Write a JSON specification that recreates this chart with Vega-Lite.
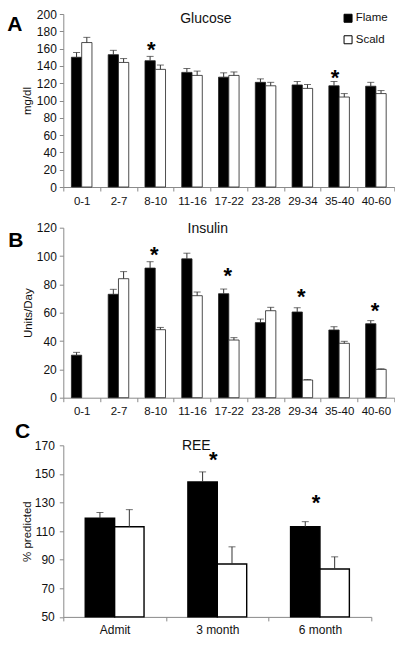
{
  "$schema": "https://vega.github.io/schema/vega-lite/v6.json",
  "background": "white",
  "padding": {"left": 7.3, "top": 8, "right": 0, "bottom": 0},
  "spacing": 2.3,
  "config": {
    "view": {"stroke": null},
    "font": "Liberation Sans",
    "axis": {"domainColor": "#8a8a8a", "tickColor": "#8a8a8a", "labelFont": "Liberation Sans", "labelFontSize": 12, "labelColor": "#111", "titleFont": "Liberation Sans", "titleFontSize": 11.5, "titleFontWeight": "normal", "titleColor": "#111", "grid": false, "tickSize": 4, "labelPadding": 3, "titlePadding": 2},
    "axisX": {"tickBand": "extent", "labelAngle": 0, "labelFontSize": 11.5, "labelPadding": 4},
    "axisY": {"titleBaseline": "middle", "titleAlign": "center"},
    "title": {"font": "Liberation Sans", "color": "#111"}
  },
  "datasets": {
    "glucose": [
      {"cat": "0-1", "group": "Flame", "value": 150, "upper": 155.5},
      {"cat": "0-1", "group": "Scald", "value": 167, "upper": 173},
      {"cat": "2-7", "group": "Flame", "value": 153, "upper": 158},
      {"cat": "2-7", "group": "Scald", "value": 144, "upper": 148.5},
      {"cat": "8-10", "group": "Flame", "value": 146, "upper": 151},
      {"cat": "8-10", "group": "Scald", "value": 136, "upper": 141},
      {"cat": "11-16", "group": "Flame", "value": 132.5, "upper": 137},
      {"cat": "11-16", "group": "Scald", "value": 129, "upper": 134},
      {"cat": "17-22", "group": "Flame", "value": 127, "upper": 132},
      {"cat": "17-22", "group": "Scald", "value": 129, "upper": 133},
      {"cat": "23-28", "group": "Flame", "value": 121, "upper": 125},
      {"cat": "23-28", "group": "Scald", "value": 117, "upper": 121},
      {"cat": "29-34", "group": "Flame", "value": 118, "upper": 122},
      {"cat": "29-34", "group": "Scald", "value": 114, "upper": 118.5},
      {"cat": "35-40", "group": "Flame", "value": 117, "upper": 122},
      {"cat": "35-40", "group": "Scald", "value": 104, "upper": 108},
      {"cat": "40-60", "group": "Flame", "value": 116.5, "upper": 121},
      {"cat": "40-60", "group": "Scald", "value": 108, "upper": 111.5}
    ],
    "glucoseStars": [
      {"cat": "8-10", "y": 161.5},
      {"cat": "35-40", "y": 129}
    ],
    "insulin": [
      {"cat": "0-1", "group": "Flame", "value": 30, "upper": 32},
      {"cat": "2-7", "group": "Flame", "value": 73, "upper": 76.5},
      {"cat": "2-7", "group": "Scald", "value": 84, "upper": 89},
      {"cat": "8-10", "group": "Flame", "value": 91.5, "upper": 96},
      {"cat": "8-10", "group": "Scald", "value": 48, "upper": 49.6},
      {"cat": "11-16", "group": "Flame", "value": 98, "upper": 102},
      {"cat": "11-16", "group": "Scald", "value": 72, "upper": 74.6},
      {"cat": "17-22", "group": "Flame", "value": 73.4, "upper": 76.7},
      {"cat": "17-22", "group": "Scald", "value": 40.7, "upper": 42.4},
      {"cat": "23-28", "group": "Flame", "value": 53, "upper": 55.5},
      {"cat": "23-28", "group": "Scald", "value": 61.4, "upper": 63.8},
      {"cat": "29-34", "group": "Flame", "value": 60.5, "upper": 63.5},
      {"cat": "29-34", "group": "Scald", "value": 12.5, "upper": 12.8},
      {"cat": "35-40", "group": "Flame", "value": 47.8, "upper": 50.1},
      {"cat": "35-40", "group": "Scald", "value": 38.4, "upper": 39.8},
      {"cat": "40-60", "group": "Flame", "value": 52.2, "upper": 54.4},
      {"cat": "40-60", "group": "Scald", "value": 20, "upper": 20.4}
    ],
    "insulinStars": [
      {"cat": "8-10", "y": 103},
      {"cat": "17-22", "y": 88},
      {"cat": "29-34", "y": 73},
      {"cat": "40-60", "y": 63}
    ],
    "ree": [
      {"cat": "Admit", "group": "Flame", "value": 119, "upper": 123},
      {"cat": "Admit", "group": "Scald", "value": 113, "upper": 125},
      {"cat": "3 month", "group": "Flame", "value": 144.4, "upper": 151.4},
      {"cat": "3 month", "group": "Scald", "value": 87, "upper": 99},
      {"cat": "6 month", "group": "Flame", "value": 113, "upper": 116.6},
      {"cat": "6 month", "group": "Scald", "value": 83.5, "upper": 92}
    ],
    "reeStars": [
      {"cat": "3 month", "y": 161.5},
      {"cat": "6 month", "y": 132}
    ]
  },
  "resolve": {"scale": {"fill": "independent", "xOffset": "independent"}, "legend": {"fill": "independent"}},
  "vconcat": [
    {
      "spacing": 14.7,
      "resolve": {"scale": {"fill": "independent", "xOffset": "independent"}, "legend": {"fill": "independent"}},
      "vconcat": [
        {
          "title": {"text": "A", "anchor": "start", "frame": "bounds", "fontSize": 21, "fontWeight": "bold", "color": "#000", "baseline": "alphabetic", "offset": -44.4, "dx": -14.7},
          "resolve": {"scale": {"fill": "independent", "xOffset": "independent"}, "legend": {"fill": "independent"}},
          "vconcat": [
            {
              "width": 331,
              "height": 173,
              "data": {"name": "glucose"},
              "title": {"text": "Glucose", "anchor": "middle", "frame": "group", "fontSize": 14, "fontWeight": "normal", "baseline": "alphabetic", "offset": -29, "dx": -23},
              "encoding": {
                "x": {"field": "cat", "type": "nominal", "title": null,
                      "scale": {"domain": ["0-1", "2-7", "8-10", "11-16", "17-22", "23-28", "29-34", "35-40", "40-60"], "paddingInner": 0, "paddingOuter": 0}}
              },
              "layer": [
                {
                  "mark": {"type": "bar", "stroke": "#222", "strokeWidth": 0.8},
                  "encoding": {
                    "xOffset": {"field": "group", "type": "nominal", "scale": {"domain": ["Flame", "Scald"], "paddingInner": 0, "paddingOuter": 0.79}},
                    "y": {"field": "value", "type": "quantitative", "scale": {"domain": [0, 200]}, "axis": {"title": "mg/dl", "titleX": -35.3, "values": [0, 20, 40, 60, 80, 100, 120, 140, 160, 180, 200]}},
                    "fill": {"field": "group", "type": "nominal", "scale": {"domain": ["Flame", "Scald"], "range": ["#000000", "#ffffff"]},
                             "legend": {"orient": "none", "legendX": 279, "legendY": -1.5, "title": null, "symbolType": "square", "symbolSize": 64, "symbolStrokeColor": "#000", "symbolStrokeWidth": 1, "labelFont": "Liberation Sans", "labelFontSize": 11.5, "labelColor": "#111", "rowPadding": 8.5, "padding": 0, "labelOffset": 2}}
                  }
                },
                {
                  "mark": {"type": "rule", "color": "#333", "strokeWidth": 1},
                  "encoding": {
                    "xOffset": {"field": "group", "type": "nominal", "scale": {"domain": ["Flame", "Scald"], "paddingInner": 0, "paddingOuter": 0.79}},
                    "y": {"field": "value", "type": "quantitative", "axis": {"title": "mg/dl", "titleX": -35.3, "values": [0, 20, 40, 60, 80, 100, 120, 140, 160, 180, 200]}},
                    "y2": {"field": "upper"}
                  }
                },
                {
                  "mark": {"type": "tick", "color": "#333", "size": 7, "thickness": 1},
                  "encoding": {
                    "xOffset": {"field": "group", "type": "nominal", "scale": {"domain": ["Flame", "Scald"], "paddingInner": 0, "paddingOuter": 0.79}},
                    "y": {"field": "upper", "type": "quantitative", "axis": {"title": "mg/dl", "titleX": -35.3, "values": [0, 20, 40, 60, 80, 100, 120, 140, 160, 180, 200]}}
                  }
                },
                {
                  "data": {"name": "glucoseStars"},
                  "mark": {"type": "text", "text": "*", "fontSize": 22, "fontWeight": "bold", "color": "#000", "baseline": "middle", "dx": -4, "dy": 3},
                  "encoding": {
                    "y": {"field": "y", "type": "quantitative", "axis": {"title": "mg/dl", "titleX": -35.3, "values": [0, 20, 40, 60, 80, 100, 120, 140, 160, 180, 200]}}
                  }
                }
              ]
            }
          ]
        },
        {
          "title": {"text": "B", "anchor": "start", "frame": "bounds", "fontSize": 21, "fontWeight": "bold", "color": "#000", "baseline": "alphabetic", "offset": -45.9, "dx": -14},
          "resolve": {"scale": {"fill": "independent", "xOffset": "independent"}, "legend": {"fill": "independent"}},
          "vconcat": [
            {
              "width": 331,
              "height": 170,
              "data": {"name": "insulin"},
              "title": {"text": "Insulin", "anchor": "middle", "frame": "group", "fontSize": 14, "fontWeight": "normal", "baseline": "alphabetic", "offset": -25, "dx": -21},
              "encoding": {
                "x": {"field": "cat", "type": "nominal", "title": null,
                      "scale": {"domain": ["0-1", "2-7", "8-10", "11-16", "17-22", "23-28", "29-34", "35-40", "40-60"], "paddingInner": 0, "paddingOuter": 0}}
              },
              "layer": [
                {
                  "mark": {"type": "bar", "stroke": "#222", "strokeWidth": 0.8},
                  "encoding": {
                    "xOffset": {"field": "group", "type": "nominal", "scale": {"domain": ["Flame", "Scald"], "paddingInner": 0, "paddingOuter": 0.79}},
                    "y": {"field": "value", "type": "quantitative", "scale": {"domain": [0, 120]}, "axis": {"title": "Units/Day", "titleX": -35, "values": [0, 20, 40, 60, 80, 100, 120]}},
                    "fill": {"field": "group", "type": "nominal", "scale": {"domain": ["Flame", "Scald"], "range": ["#000000", "#ffffff"]}, "legend": null}
                  }
                },
                {
                  "mark": {"type": "rule", "color": "#333", "strokeWidth": 1},
                  "encoding": {
                    "xOffset": {"field": "group", "type": "nominal", "scale": {"domain": ["Flame", "Scald"], "paddingInner": 0, "paddingOuter": 0.79}},
                    "y": {"field": "value", "type": "quantitative", "axis": {"title": "Units/Day", "titleX": -35, "values": [0, 20, 40, 60, 80, 100, 120]}},
                    "y2": {"field": "upper"}
                  }
                },
                {
                  "mark": {"type": "tick", "color": "#333", "size": 7, "thickness": 1},
                  "encoding": {
                    "xOffset": {"field": "group", "type": "nominal", "scale": {"domain": ["Flame", "Scald"], "paddingInner": 0, "paddingOuter": 0.79}},
                    "y": {"field": "upper", "type": "quantitative", "axis": {"title": "Units/Day", "titleX": -35, "values": [0, 20, 40, 60, 80, 100, 120]}}
                  }
                },
                {
                  "data": {"name": "insulinStars"},
                  "mark": {"type": "text", "text": "*", "fontSize": 22, "fontWeight": "bold", "color": "#000", "baseline": "middle", "dx": -1, "dy": 3},
                  "encoding": {
                    "y": {"field": "y", "type": "quantitative", "axis": {"title": "Units/Day", "titleX": -35, "values": [0, 20, 40, 60, 80, 100, 120]}}
                  }
                }
              ]
            }
          ]
        }
      ]
    },
    {
      "title": {"text": "C", "anchor": "start", "frame": "bounds", "fontSize": 21, "fontWeight": "bold", "color": "#000", "baseline": "alphabetic", "offset": -19.7, "dx": -6},
      "resolve": {"scale": {"fill": "independent", "xOffset": "independent"}, "legend": {"fill": "independent"}},
      "vconcat": [
        {
          "width": 308,
          "height": 171.6,
          "data": {"name": "ree"},
          "title": {"text": "REE", "anchor": "middle", "frame": "group", "fontSize": 14, "fontWeight": "normal", "baseline": "alphabetic", "offset": -24.6, "dx": -21},
          "encoding": {
            "x": {"field": "cat", "type": "nominal", "title": null,
                  "scale": {"domain": ["Admit", "3 month", "6 month"], "paddingInner": 0, "paddingOuter": 0},
                  "axis": {"labelFontSize": 12}}
          },
          "layer": [
            {
              "mark": {"type": "bar", "stroke": "#000", "strokeWidth": 1.4},
              "encoding": {
                "xOffset": {"field": "group", "type": "nominal", "scale": {"domain": ["Flame", "Scald"], "paddingInner": 0, "paddingOuter": 0.746}},
                "y": {"field": "value", "type": "quantitative", "scale": {"domain": [50, 170]}, "axis": {"title": "% predicted", "titleX": -36.2, "values": [50, 70, 90, 110, 130, 150, 170], "labelPadding": 5}},
                "y2": {"datum": 50},
                "fill": {"field": "group", "type": "nominal", "scale": {"domain": ["Flame", "Scald"], "range": ["#000000", "#ffffff"]}, "legend": null}
              }
            },
            {
              "mark": {"type": "rule", "color": "#333", "strokeWidth": 1},
              "encoding": {
                "xOffset": {"field": "group", "type": "nominal", "scale": {"domain": ["Flame", "Scald"], "paddingInner": 0, "paddingOuter": 0.746}},
                "y": {"field": "value", "type": "quantitative", "axis": {"title": "% predicted", "titleX": -36.2, "values": [50, 70, 90, 110, 130, 150, 170], "labelPadding": 5}},
                "y2": {"field": "upper"}
              }
            },
            {
              "mark": {"type": "tick", "color": "#333", "size": 7, "thickness": 1},
              "encoding": {
                "xOffset": {"field": "group", "type": "nominal", "scale": {"domain": ["Flame", "Scald"], "paddingInner": 0, "paddingOuter": 0.746}},
                "y": {"field": "upper", "type": "quantitative", "axis": {"title": "% predicted", "titleX": -36.2, "values": [50, 70, 90, 110, 130, 150, 170], "labelPadding": 5}}
              }
            },
            {
              "data": {"name": "reeStars"},
              "mark": {"type": "text", "text": "*", "fontSize": 22, "fontWeight": "bold", "color": "#000", "baseline": "middle", "dx": -4, "dy": 3},
              "encoding": {
                "y": {"field": "y", "type": "quantitative", "axis": {"title": "% predicted", "titleX": -36.2, "values": [50, 70, 90, 110, 130, 150, 170], "labelPadding": 5}}
              }
            }
          ]
        }
      ]
    }
  ]
}
